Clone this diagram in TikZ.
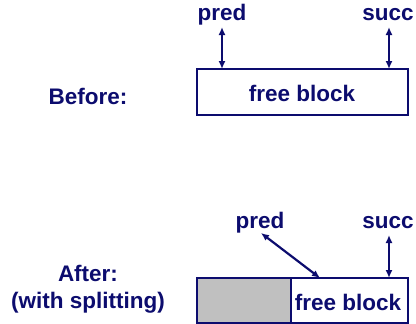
\documentclass[tikz,border=0pt]{standalone}
\usepackage{fontspec}
\setmainfont{Liberation Sans}
\usetikzlibrary{arrows.meta}
\definecolor{navy}{RGB}{12,12,110}
\definecolor{greyfill}{RGB}{192,192,192}
\begin{document}
\begin{tikzpicture}[x=1pt,y=-1pt,
  lbl/.style={text=navy,font=\fontsize{22.5}{26}\selectfont\bfseries,inner sep=0pt},
  blk/.style={draw=navy,line width=2.6pt},
  ptr/.style={draw=navy,line width=2.2pt,{Latex[length=8pt,width=7pt]}-{Latex[length=8pt,width=7pt]}}]
\useasboundingbox (0,0) rectangle (416,324);
% Before
\node[lbl] (before) at (88,96) {Before:};
\draw[blk] (197,69) rectangle (408,115);
\node[lbl] (fb1) at (302,93) {free block};
\node[lbl] (pred1) at (222,15) {pred};
\node[lbl] (succ1) at (388,15) {succ};
\coordinate (p1) at (222,69);
\coordinate (s1) at (389,69);
\draw[ptr] (222,27) -- (p1);
\draw[ptr] (389,27) -- (s1);
% After
\node[lbl] (after) at (88,273) {After:};
\node[lbl] (split) at (88,303) {(with splitting)};
\fill[greyfill] (197,278) rectangle (291,323);
\draw[blk] (197,278) rectangle (408,323);
\draw[blk] (291,278) -- (291,323);
\node[lbl] (fb2) at (348,302) {free block};
\node[lbl] (pred2) at (260,223) {pred};
\node[lbl] (succ2) at (388,223) {succ};
\coordinate (p2) at (320,278);
\coordinate (s2) at (389,278);
\draw[ptr] (261,233) -- (p2);
\draw[ptr] (389,235) -- (s2);
\end{tikzpicture}
\end{document}
